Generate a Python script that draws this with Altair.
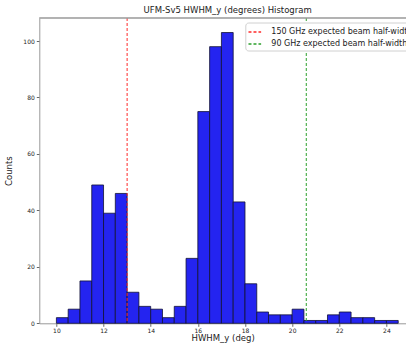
import altair as alt
import pandas as pd

# Histogram of HWHM_y per detector: bins of 0.5 deg from 10.0 to 24.5
bin_starts = [10.0, 10.5, 11.0, 11.5, 12.0, 12.5, 13.0, 13.5, 14.0, 14.5,
              15.0, 15.5, 16.0, 16.5, 17.0, 17.5, 18.0, 18.5, 19.0, 19.5,
              20.0, 20.5, 21.0, 21.5, 22.0, 22.5, 23.0, 23.5, 24.0]
counts = [2, 5, 15, 49, 39, 46, 11, 6, 5, 2,
          6, 23, 75, 98, 103, 43, 14, 4, 3, 3,
          5, 1, 1, 3, 4, 2, 2, 1, 1]
bin_width = 0.5

# Expected beam half-widths
ref_labels = ["150 GHz expected beam half-width", "90 GHz expected beam half-width"]
ref_values = [13.0, 20.6]
ref_colors = ["#ff2a2a", "#2ca02c"]

hist = pd.DataFrame({
    "start": bin_starts,
    "end": [s + bin_width for s in bin_starts],
    "count": counts,
})
refs = pd.DataFrame({"label": ref_labels, "value": ref_values})

FONT = "DejaVu Sans"
PLOT_W = 366.7
PLOT_H = 305.3
x_scale = alt.Scale(domain=[9.275, 24.83], nice=False, zero=False)
y_scale = alt.Scale(domain=[0, 108.15], nice=False)

x_axis = alt.Axis(values=[10, 12, 14, 16, 18, 20, 22, 24], format="d",
                  title="HWHM_y (deg)", titleFontSize=8.5, titleFontWeight="normal",
                  titleFont=FONT, titleColor="#222", titlePadding=0,
                  labelFontSize=6, labelFont=FONT, labelColor="#222", labelPadding=1,
                  tickSize=3, tickColor="#666", domainColor="#999", grid=False)
y_axis = alt.Axis(values=[0, 20, 40, 60, 80, 100], format="d",
                  title="Counts", titleFontSize=8.5, titleFontWeight="normal",
                  titleFont=FONT, titleColor="#222", titlePadding=9,
                  labelFontSize=6, labelFont=FONT, labelColor="#222", labelPadding=2,
                  tickSize=3, tickColor="#666", domainColor="#999", grid=False)

bars = alt.Chart(hist).mark_bar(
    color="#2424F0", stroke="#111133", strokeWidth=0.8
).encode(
    x=alt.X("start:Q", scale=x_scale, axis=x_axis),
    x2="end:Q",
    y=alt.Y("count:Q", scale=y_scale, axis=y_axis),
    y2=alt.datum(0),
)

lines = alt.Chart(refs).mark_rule(strokeDash=[3, 2], strokeWidth=1).encode(
    x=alt.X("value:Q", scale=x_scale),
    color=alt.Color(
        "label:N",
        scale=alt.Scale(domain=ref_labels, range=ref_colors),
        legend=alt.Legend(
            title=None, orient="none", legendX=206, legendY=4.5,
            symbolType="stroke", symbolDash=[3, 2], symbolStrokeWidth=1.4,
            symbolSize=160, labelFontSize=8, labelFont=FONT, labelColor="#222",
            labelOffset=9, rowPadding=0, padding=2,
            strokeColor="#d0d0d0", fillColor="white", cornerRadius=3,
            labelLimit=400,
        ),
    ),
)

# top frame line
top_line = alt.Chart(refs).mark_rule(color="#999", strokeWidth=1).encode(
    y=alt.value(0), x=alt.value(0), x2=alt.value(PLOT_W)
)

chart = alt.layer(bars, lines, top_line).properties(
    width=PLOT_W,
    height=PLOT_H,
    title=alt.TitleParams("UFM-Sv5 HWHM_y (degrees) Histogram", fontSize=8.5,
                          fontWeight="normal", font=FONT, color="#222",
                          offset=3, dx=5),
    autosize=alt.AutoSizeParams(type="none"),
    padding={"left": 39.3, "top": 18, "right": 0, "bottom": 19.7},
).configure_view(stroke=None)

chart.save("out.html", embed_options={"renderer": "svg", "actions": False})
